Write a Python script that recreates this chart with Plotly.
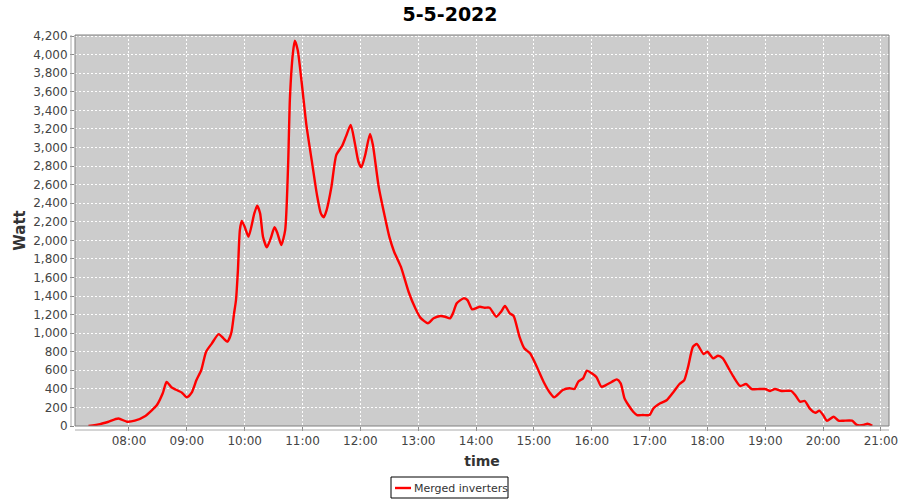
import plotly.graph_objects as go

times = ["07:18","07:30","07:38","07:49","07:58","08:06","08:17","08:24","08:29","08:35",
         "08:39","08:44","08:51","08:55","09:00","09:05","09:10","09:15","09:20","09:26",
         "09:33","09:38","09:42","09:46","09:49","09:51","09:53","09:55","09:57","10:00",
         "10:04","10:10","10:13","10:16","10:19","10:23","10:27","10:31","10:34","10:38",
         "10:42","10:45","10:47","10:50","10:52","10:55","11:00","11:04","11:10","11:15",
         "11:19","11:22","11:25","11:30","11:35","11:41","11:45","11:50","11:54","11:58",
         "12:01","12:05","12:10","12:13","12:19","12:25","12:30","12:35","12:42","12:50",
         "12:57","13:02","13:10","13:16","13:23","13:28","13:33","13:36","13:40","13:47",
         "13:51","13:56","14:04","14:09","14:14","14:21","14:26","14:30","14:35","14:39",
         "14:45","14:50","14:56","15:03","15:10","15:17","15:21","15:30","15:37","15:42",
         "15:46","15:51","15:55","16:00","16:05","16:10","16:15","16:21","16:26","16:30",
         "16:34","16:38","16:43","16:47","16:53","17:00","17:04","17:11","17:18","17:25",
         "17:31","17:36","17:40","17:45","17:49","17:56","18:00","18:06","18:11","18:16",
         "18:22","18:27","18:34","18:40","18:46","18:54","19:00","19:05","19:10","19:17",
         "19:27","19:31","19:36","19:41","19:46","19:52","19:56","20:00","20:04","20:11",
         "20:16","20:21","20:30","20:35","20:42","20:46","20:51"]

watts = [0, 20, 43, 80, 46, 57, 108, 172, 226, 352,
         475, 417, 380, 359, 309, 359, 495, 603, 800, 890,
         990, 944, 908, 998, 1213, 1357, 1680, 2110, 2208, 2146,
         2039, 2290, 2372, 2290, 2039, 1924, 2021, 2140, 2075, 1949,
         2110, 2793, 3547, 4014, 4150, 4050, 3618, 3242, 2829, 2488,
         2290, 2248, 2326, 2577, 2918, 3015, 3116, 3242, 3062, 2846,
         2786, 2918, 3145, 3026, 2577, 2272, 2039, 1877, 1716, 1446,
         1267, 1170, 1106, 1160, 1185, 1177, 1160, 1213, 1321, 1375,
         1357, 1256, 1285, 1274, 1274, 1177, 1231, 1292, 1213, 1185,
         962, 837, 783, 639, 477, 352, 309, 388, 406, 398,
         477, 513, 596, 567, 524, 423, 442, 477, 502, 460,
         298, 226, 154, 118, 118, 118, 190, 244, 280, 369,
         452, 495, 639, 854, 883, 775, 800, 729, 757, 729,
         621, 531, 431, 452, 398, 398, 398, 377, 398, 377,
         377, 334, 262, 269, 190, 143, 165, 118, 57, 100,
         57, 57, 57, 11, 11, 25, 3]

day = "2022-05-05"
series_name = "Merged inverters"
hour_ticks = ["08:00","09:00","10:00","11:00","12:00","13:00","14:00",
              "15:00","16:00","17:00","18:00","19:00","20:00","21:00"]
y_ticks = list(range(0, 4201, 200))

x = [f"{day} {t}" for t in times]

fig = go.Figure()
fig.add_trace(go.Scatter(
    x=x, y=watts, mode="lines", name=series_name, showlegend=False,
    line=dict(color="#ff0000", width=2.4, shape="spline", smoothing=0.6),
))

L, R, T, B = 75, 11, 35, 74
W, H = 900, 500
pw, ph = W - L - R, H - T - B


def px(v):
    return (v - L) / pw


def py(v):
    return (H - B - v) / ph


font = "DejaVu Sans, Verdana, sans-serif"
fig.update_layout(
    width=W, height=H,
    margin=dict(l=L, r=R, t=T, b=B, pad=0, autoexpand=False),
    paper_bgcolor="white",
    plot_bgcolor="#cccccc",
    font=dict(family=font, size=12, color="#444444"),
    title=dict(text="<b>5-5-2022</b>", x=0.5, xanchor="center", y=0.972, yanchor="middle",
               font=dict(family=font, size=19, color="#000000")),
    showlegend=False,
    xaxis=dict(
        type="date", automargin=False,
        range=[f"{day} 07:04", f"{day} 21:08:20"],
        tickvals=[f"{day} {t}" for t in hour_ticks],
        ticktext=hour_ticks,
        showgrid=True, gridcolor="#ffffff", gridwidth=1, griddash="2px,2px",
        zeroline=False, showline=False,
        ticks="outside", ticklen=4, tickcolor="#888888",
        tickfont=dict(size=12, color="#444444"),
        title=dict(text="<b>time</b>", font=dict(size=14, color="#333333"), standoff=8),
        fixedrange=True,
    ),
    yaxis=dict(
        automargin=False,
        range=[0, 4211],
        tickvals=y_ticks,
        tickformat=",d",
        showgrid=True, gridcolor="#ffffff", gridwidth=1, griddash="2px,2px",
        zeroline=False, showline=False,
        ticks="outside", ticklen=4, tickcolor="#888888",
        tickfont=dict(size=12, color="#444444"),
        title=dict(text="<b>Watt</b>", font=dict(size=15, color="#333333"), standoff=3),
        fixedrange=True,
    ),
)

# plot border
fig.add_shape(type="rect", xref="paper", yref="paper", x0=0, x1=1, y0=0, y1=1,
              line=dict(color="#808080", width=1), fillcolor="rgba(0,0,0,0)", layer="above")
# offset axis lines (JFreeChart style)
fig.add_shape(type="line", xref="paper", yref="paper", x0=0, x1=1, y0=py(430), y1=py(430),
              line=dict(color="#aaaaaa", width=1))
fig.add_shape(type="line", xref="paper", yref="paper", x0=px(71), x1=px(71), y0=0, y1=1,
              line=dict(color="#aaaaaa", width=1))

# custom legend box (JFreeChart style)
fig.add_shape(type="rect", xref="paper", yref="paper",
              x0=px(391), x1=px(508), y0=py(498), y1=py(477),
              line=dict(color="#000000", width=1), fillcolor="white")
fig.add_shape(type="line", xref="paper", yref="paper",
              x0=px(395), x1=px(411), y0=py(488), y1=py(488),
              line=dict(color="#ff0000", width=2.4))
fig.add_annotation(xref="paper", yref="paper", x=px(412), y=py(488),
                   xanchor="left", yanchor="middle", showarrow=False,
                   text=series_name, font=dict(family=font, size=11, color="#333333"))

fig.write_html(
    "out.html",
    config={"displayModeBar": False},
    post_script="document.body.style.margin='0';document.body.style.padding='0';"
                "document.body.style.overflow='hidden';",
)
